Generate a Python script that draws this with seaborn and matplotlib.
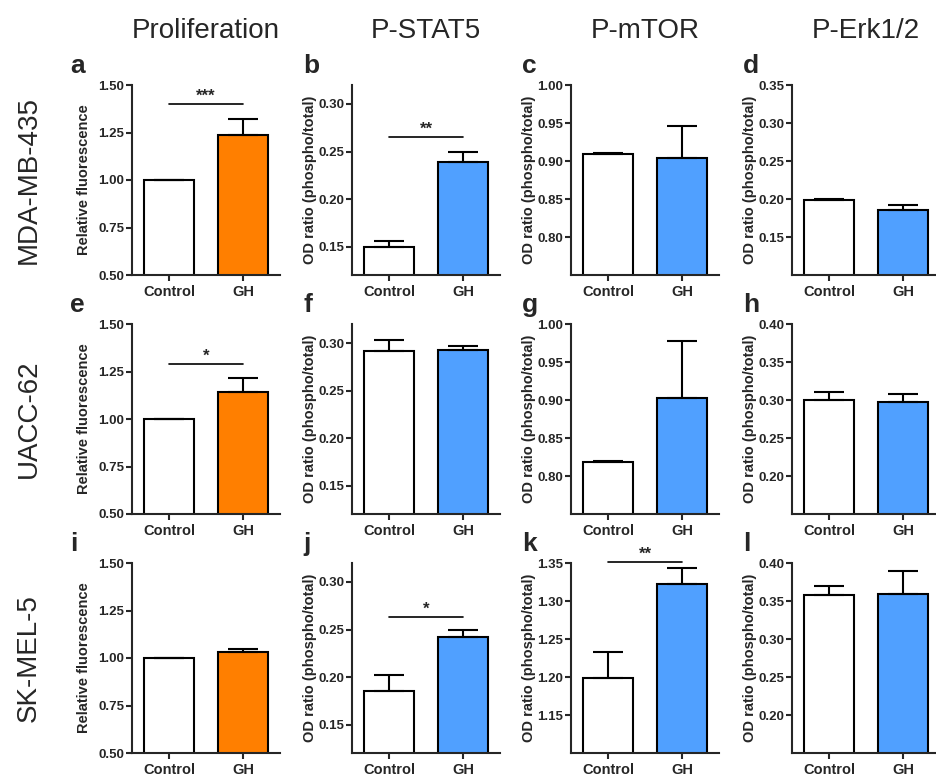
import matplotlib.pyplot as plt
import pandas as pd
import seaborn as sns
from matplotlib.ticker import FormatStrFormatter

# values: rows are cell lines, pairs are (Control, GH)
groups = ["Control", "GH"]
cell_lines = ["MDA-MB-435", "UACC-62", "SK-MEL-5"]
columns = ["Proliferation", "P-STAT5", "P-mTOR", "P-Erk1/2"]
letters = ["a", "b", "c", "d", "e", "f", "g", "h", "i", "j", "k", "l"]

prolif_mean = [[1.00, 1.236], [1.00, 1.14], [1.00, 1.032]]
prolif_err = [[0.0, 0.085], [0.0, 0.074], [0.0, 0.013]]
stat5_mean = [[0.149, 0.239], [0.292, 0.293], [0.185, 0.242]]
stat5_err = [[0.007, 0.011], [0.011, 0.004], [0.017, 0.007]]
mtor_mean = [[0.909, 0.904], [0.818, 0.902], [1.199, 1.323]]
mtor_err = [[0.002, 0.042], [0.002, 0.076], [0.034, 0.021]]
erk_mean = [[0.199, 0.185], [0.300, 0.297], [0.358, 0.359]]
erk_err = [[0.0005, 0.0065], [0.010, 0.011], [0.012, 0.030]]

# (row, col) -> (height of the bracket line, stars)
significance = {
    (0, 0): (1.40, "***"),
    (0, 1): (0.265, "**"),
    (1, 0): (1.29, "*"),
    (2, 1): (0.263, "*"),
    (2, 2): (1.351, "**"),
}

ylims = [
    [(0.5, 1.5), (0.12, 0.32), (0.75, 1.00), (0.10, 0.35)],
    [(0.5, 1.5), (0.12, 0.32), (0.75, 1.00), (0.15, 0.40)],
    [(0.5, 1.5), (0.12, 0.32), (1.10, 1.35), (0.15, 0.40)],
]
yticks = [
    [[0.5, 0.75, 1.0, 1.25, 1.5], [0.15, 0.20, 0.25, 0.30], [0.80, 0.85, 0.90, 0.95, 1.00], [0.15, 0.20, 0.25, 0.30, 0.35]],
    [[0.5, 0.75, 1.0, 1.25, 1.5], [0.15, 0.20, 0.25, 0.30], [0.80, 0.85, 0.90, 0.95, 1.00], [0.20, 0.25, 0.30, 0.35, 0.40]],
    [[0.5, 0.75, 1.0, 1.25, 1.5], [0.15, 0.20, 0.25, 0.30], [1.15, 1.20, 1.25, 1.30, 1.35], [0.20, 0.25, 0.30, 0.35, 0.40]],
]

ORANGE = "#FF7F00"
BLUE = "#50A0FF"

sns.set_style("ticks")
plt.rcParams["font.family"] = ["Liberation Sans", "DejaVu Sans"]
plt.rcParams["font.weight"] = "bold"
plt.rcParams["axes.linewidth"] = 1.5

W, H = 936, 777
fig = plt.figure(figsize=(W / 100, H / 100), dpi=100)

lefts = [132, 352, 571, 792]
tops = [85, 324, 563]
ax_w, ax_h = 148, 190

means = [prolif_mean, stat5_mean, mtor_mean, erk_mean]
errs = [prolif_err, stat5_err, mtor_err, erk_err]

for r in range(3):
    for c in range(4):
        left, top = lefts[c], tops[r]
        ax = fig.add_axes([left / W, 1 - (top + ax_h) / H, ax_w / W, ax_h / H])
        vals = means[c][r]
        err = errs[c][r]
        df = pd.DataFrame({"group": groups, "value": vals})
        sns.barplot(
            data=df,
            x="group",
            y="value",
            hue="group",
            palette=["white", ORANGE if c == 0 else BLUE],
            saturation=1,
            width=0.667,
            edgecolor="black",
            linewidth=1.5,
            legend=False,
            ax=ax,
        )
        ax.errorbar(
            [0, 1], vals, yerr=[[0, 0], err], fmt="none", ecolor="black",
            elinewidth=1.5, capsize=10.5, capthick=1.5, zorder=3,
        )
        ax.set_xlim(-0.5, 1.5)
        ax.set_ylim(*ylims[r][c])
        ax.set_yticks(yticks[r][c])
        ax.yaxis.set_major_formatter(FormatStrFormatter("%.2f"))
        ax.tick_params(direction="out", length=4.5, width=1.5, labelsize=9.5)
        ax.tick_params(axis="y", pad=1)
        ax.tick_params(axis="x", pad=2.5, labelsize=10.5)
        ax.set_xlabel("")
        if c == 0:
            ax.set_ylabel("Relative fluorescence", fontsize=10.5, fontweight="bold")
            ax.yaxis.set_label_coords(-0.28, 0.5)
        else:
            ax.set_ylabel("OD ratio (phospho/total)", fontsize=10.5, fontweight="bold")
            ax.yaxis.set_label_coords(-0.235, 0.5)
        sns.despine(ax=ax)

        if (r, c) in significance:
            y, stars = significance[(r, c)]
            ax.plot([0, 1], [y, y], color="black", lw=1.2, clip_on=False)
            ax.text(0.5, y, stars, ha="center", va="bottom", fontsize=12,
                    fontweight="bold", clip_on=False)

        letter_x = left - (62 if c == 0 else 49)
        fig.text(letter_x / W, 1 - (top - 12) / H, letters[r * 4 + c],
                 fontsize=19, fontweight="bold", ha="left", va="baseline")

for c, name in enumerate(columns):
    fig.text((lefts[c] + 74) / W, 1 - 31 / H, name, fontsize=20,
             fontweight="normal", ha="center", va="center")

for r, name in enumerate(cell_lines):
    fig.text(29 / W, 1 - (tops[r] + ax_h / 2) / H, name, fontsize=20,
             fontweight="normal", rotation=90, ha="center", va="center")

fig.savefig("out.png", dpi=100)
